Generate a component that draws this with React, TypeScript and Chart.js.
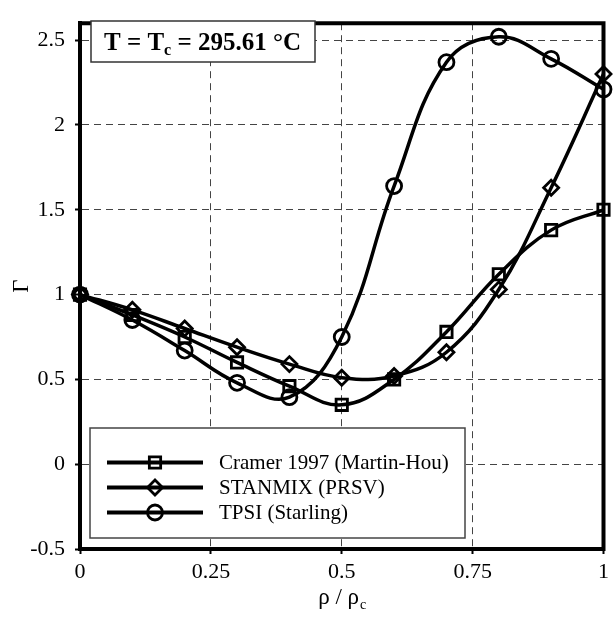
import React, { useEffect, useRef } from 'react';
import { Chart, registerables } from 'chart.js';

Chart.register(...registerables);

// ---- data ----
const xValues = [0, 0.1, 0.2, 0.3, 0.4, 0.5, 0.6, 0.7, 0.8, 0.9, 1.0];
const cramerValues = [1.0, 0.88, 0.75, 0.6, 0.46, 0.35, 0.5, 0.78, 1.12, 1.38, 1.5];
const stanmixValues = [1.0, 0.91, 0.8, 0.69, 0.59, 0.51, 0.52, 0.66, 1.03, 1.63, 2.3];
const tpsiValues = [1.0, 0.85, 0.67, 0.48, 0.395, 0.75, 1.64, 2.37, 2.52, 2.39, 2.21];
const seriesLabels = ['Cramer 1997 (Martin-Hou)', 'STANMIX (PRSV)', 'TPSI (Starling)'];
const seriesMarkers = ['rect', 'rectRot', 'circle'];
const xTickValues = [0, 0.25, 0.5, 0.75, 1];
const xTickLabels = ['0', '0.25', '0.5', '0.75', '1'];
const yTickValues = [-0.5, 0, 0.5, 1, 1.5, 2, 2.5];
const yTickLabels = ['-0.5', '0', '0.5', '1', '1.5', '2', '2.5'];
const xTitleMain = 'ρ / ρ';
const xTitleSub = 'c';
const yTitle = 'Γ';
const noteParts = ['T = T', 'c', ' = 295.61 °C'];

const FONT = "'Liberation Serif', 'Times New Roman', serif";
const markerRadius: Record<string, number> = { rect: 8, rectRot: 7.5, circle: 7.5 };

function drawMarker(ctx: CanvasRenderingContext2D, style: string, x: number, y: number) {
  const r = markerRadius[style];
  ctx.beginPath();
  if (style === 'circle') {
    ctx.arc(x, y, r, 0, Math.PI * 2);
  } else if (style === 'rect') {
    const s = r * Math.SQRT1_2;
    ctx.rect(x - s, y - s, 2 * s, 2 * s);
  } else {
    ctx.moveTo(x - r, y);
    ctx.lineTo(x, y - r);
    ctx.lineTo(x + r, y);
    ctx.lineTo(x, y + r);
    ctx.closePath();
  }
  ctx.stroke();
}

const overlayPlugin = {
  id: 'overlay',
  beforeDatasetsDraw(chart: any) {
    const { ctx, chartArea: a } = chart;
    ctx.save();
    ctx.strokeStyle = '#000';
    ctx.lineWidth = 4;
    ctx.lineCap = 'square';
    ctx.beginPath();
    ctx.moveTo(a.left, a.top);
    ctx.lineTo(a.right, a.top);
    ctx.lineTo(a.right, a.bottom);
    ctx.stroke();
    ctx.restore();
  },
  afterDatasetsDraw(chart: any) {
    const { ctx } = chart;
    ctx.save();
    // annotation box
    ctx.fillStyle = '#fff';
    ctx.strokeStyle = '#333';
    ctx.lineWidth = 1.5;
    ctx.fillRect(91, 21, 224, 41);
    ctx.strokeRect(91, 21, 224, 41);
    ctx.fillStyle = '#000';
    ctx.textBaseline = 'alphabetic';
    ctx.textAlign = 'left';
    let x = 104;
    ctx.font = `bold 25px ${FONT}`;
    ctx.fillText(noteParts[0], x, 50);
    x += ctx.measureText(noteParts[0]).width;
    ctx.font = `bold 16px ${FONT}`;
    ctx.fillText(noteParts[1], x, 55);
    x += ctx.measureText(noteParts[1]).width;
    ctx.font = `bold 25px ${FONT}`;
    ctx.fillText(noteParts[2], x, 50);

    // legend box
    ctx.fillStyle = '#fff';
    ctx.strokeStyle = '#444';
    ctx.lineWidth = 1.5;
    ctx.fillRect(90, 428, 375, 110);
    ctx.strokeRect(90, 428, 375, 110);
    const rows = [462.5, 487.5, 512.5];
    seriesLabels.forEach((label, i) => {
      const y = rows[i];
      ctx.strokeStyle = '#000';
      ctx.lineWidth = 4;
      ctx.beginPath();
      ctx.moveTo(107, y);
      ctx.lineTo(203, y);
      ctx.stroke();
      ctx.lineWidth = 2.8;
      drawMarker(ctx, seriesMarkers[i], 155, y);
      ctx.fillStyle = '#000';
      ctx.font = `21px ${FONT}`;
      ctx.textBaseline = 'middle';
      ctx.fillText(label, 219, y + 1);
    });
    ctx.restore();
  },
  afterDraw(chart: any) {
    const { ctx, chartArea: a } = chart;
    ctx.save();
    ctx.fillStyle = '#000';
    ctx.textBaseline = 'alphabetic';
    ctx.textAlign = 'left';
    ctx.font = `23px ${FONT}`;
    const w1 = ctx.measureText(xTitleMain).width;
    ctx.font = `14px ${FONT}`;
    const w2 = ctx.measureText(xTitleSub).width;
    const cx = (a.left + a.right) / 2;
    const x0 = cx - (w1 + w2) / 2;
    ctx.font = `23px ${FONT}`;
    ctx.fillText(xTitleMain, x0, 604);
    ctx.font = `14px ${FONT}`;
    ctx.fillText(xTitleSub, x0 + w1 + 1, 609);
    ctx.restore();
  },
};

function makeData(values: number[]) {
  return xValues.map((x, i) => ({ x, y: values[i] }));
}

export default function App() {
  const canvasRef = useRef<HTMLCanvasElement | null>(null);

  useEffect(() => {
    const canvas = canvasRef.current;
    if (!canvas) return;
    const allValues = [cramerValues, stanmixValues, tpsiValues];
    const chart = new Chart(canvas, {
      type: 'line',
      data: {
        datasets: allValues.map((vals, i) => ({
          label: seriesLabels[i],
          data: makeData(vals),
          borderColor: '#000',
          borderWidth: 3.5,
          tension: 0.4,
          pointStyle: seriesMarkers[i] as any,
          pointRadius: markerRadius[seriesMarkers[i]],
          pointBorderWidth: 2.8,
          pointBorderColor: '#000',
          pointBackgroundColor: 'rgba(0,0,0,0)',
          fill: false,
          clip: false as any,
        })),
      },
      options: {
        responsive: false,
        animation: false,
        devicePixelRatio: 1,
        layout: { padding: { left: 0, right: 9, top: 10, bottom: 0 }, autoPadding: false },
        plugins: {
          legend: { display: false },
          tooltip: { enabled: false },
        },
        scales: {
          x: {
            type: 'linear',
            min: 0,
            max: 1,
            afterBuildTicks: (scale: any) => {
              scale.ticks = xTickValues.map((v) => ({ value: v }));
            },
            afterFit: (scale: any) => {
              scale.height = 71;
            },
            ticks: {
              callback: (_v: any, i: number) => xTickLabels[i],
              font: { family: FONT, size: 22 },
              color: '#000',
              padding: 5,
              maxRotation: 0,
              autoSkip: false,
            },
            grid: { color: '#444', lineWidth: 1, tickLength: 5, tickColor: '#000', tickWidth: 2 },
            border: { display: true, color: '#000', width: 4, dash: [7, 5] },
          },
          y: {
            type: 'linear',
            min: -0.5,
            max: 2.6,
            afterBuildTicks: (scale: any) => {
              scale.ticks = yTickValues.map((v) => ({ value: v }));
            },
            afterFit: (scale: any) => {
              scale.width = 80;
            },
            ticks: {
              callback: (_v: any, i: number) => yTickLabels[i],
              font: { family: FONT, size: 22 },
              color: '#000',
              padding: 10,
              autoSkip: false,
            },
            title: {
              display: true,
              text: yTitle,
              font: { family: FONT, size: 23 },
              color: '#000',
              padding: { top: 8, bottom: 0 },
            },
            grid: { color: '#444', lineWidth: 1, tickLength: 5, tickColor: '#000', tickWidth: 2 },
            border: { display: true, color: '#000', width: 4, dash: [7, 5] },
          },
        },
      },
      plugins: [overlayPlugin],
    });
    return () => chart.destroy();
  }, []);

  return (
    <div style={{ position: 'absolute', left: 0, top: 0, width: 614, height: 620, background: '#fff' }}>
      <canvas ref={canvasRef} width={614} height={620} style={{ width: 614, height: 620 }} />
    </div>
  );
}
